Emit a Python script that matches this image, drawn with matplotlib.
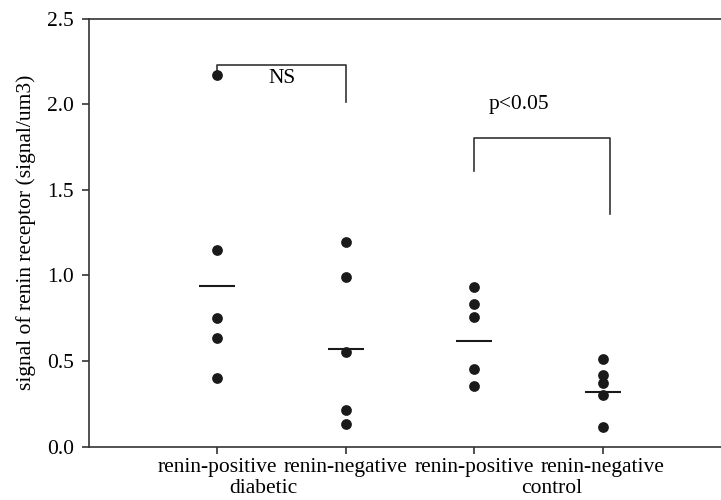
import matplotlib.pyplot as plt
import numpy as np

plt.rcParams['font.family'] = ['Liberation Serif', 'DejaVu Serif']

# Data
group_labels = ['renin-positive', 'renin-negative', 'renin-positive', 'renin-negative']
group_pos = [1, 2, 3, 4]
values = [
    [2.17, 1.15, 0.75, 0.635, 0.40],
    [1.195, 0.99, 0.55, 0.215, 0.13],
    [0.93, 0.834, 0.758, 0.454, 0.354],
    [0.514, 0.42, 0.372, 0.302, 0.113],
]
mean_lines = [0.936, 0.569, 0.617, 0.317]
condition_labels = ['diabetic', 'control']
condition_pos = [1.355, 3.60]

FS = 15.5

fig = plt.figure(figsize=(7.21, 5.0), dpi=100)
ax = fig.add_axes([89 / 721, 53.3 / 500, 632 / 721, 428.2 / 500])

dark = '#1a1a1a'
for x, vals in zip(group_pos, values):
    ax.scatter([x] * len(vals), vals, s=60, color=dark, zorder=3, linewidths=0)
for x, m in zip(group_pos, mean_lines):
    ax.hlines(m, x - 0.14, x + 0.14, color=dark, lw=1.5)

# significance brackets
ax.plot([1, 1, 2, 2], [2.19, 2.23, 2.23, 2.013], color='#333333', lw=1.2)
ax.text(1.5, 2.15, 'NS', ha='center', va='center', fontsize=FS)
ax.plot([3, 3, 4.06, 4.06], [1.612, 1.80, 1.80, 1.359], color='#333333', lw=1.2)
ax.text(3.35, 1.996, 'p<0.05', ha='center', va='center', fontsize=FS)

ax.set_xlim(0, 632 / 128.4)
ax.set_ylim(0, 2.5)
ax.set_yticks([0, 0.5, 1.0, 1.5, 2.0, 2.5])
ax.set_yticklabels(['0.0', '0.5', '1.0', '1.5', '2.0', '2.5'])
ax.set_xticks(group_pos)
ax.set_xticklabels(group_labels)
ax.tick_params(axis='both', labelsize=FS, length=5, width=1.2, color='#333333', pad=6)
ax.tick_params(axis='x', pad=3)
ax.spines['right'].set_visible(False)
for s in ['left', 'top', 'bottom']:
    ax.spines[s].set_linewidth(1.2)
    ax.spines[s].set_color('#333333')

for x, lab in zip(condition_pos, condition_labels):
    ax.annotate(lab, xy=(x, 0), xycoords=('data', 'axes fraction'),
                xytext=(0, -33.5), textcoords='offset points',
                ha='center', va='baseline', fontsize=FS)

ax.set_ylabel('signal of renin receptor (signal/um3)', fontsize=FS, labelpad=8)

fig.savefig('out.png', dpi=100)
